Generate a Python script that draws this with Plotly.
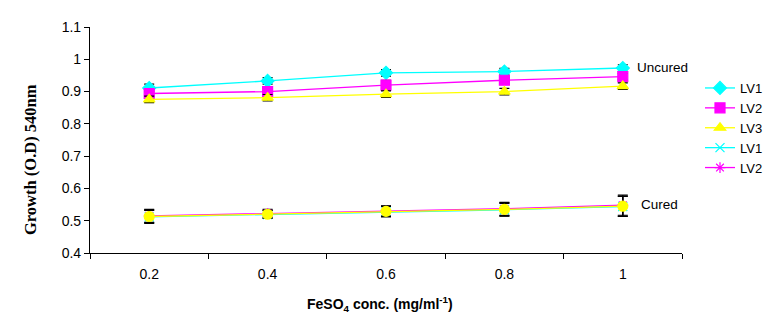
import plotly.graph_objects as go

conc = ["0.2", "0.4", "0.6", "0.8", "1"]

uncured_lv1 = [0.911, 0.933, 0.958, 0.962, 0.973]
uncured_lv2 = [0.894, 0.900, 0.920, 0.935, 0.946]
uncured_lv3 = [0.876, 0.881, 0.892, 0.900, 0.917]
uncured_lv1_err = [0.012, 0.010, 0.010, 0.010, 0.010]
uncured_lv2_err = [0.008, 0.008, 0.015, 0.010, 0.010]
uncured_lv3_err = [0.010, 0.010, 0.010, 0.010, 0.010]

cured_lv1 = [0.512, 0.519, 0.528, 0.534, 0.544]
cured_lv2 = [0.515, 0.523, 0.530, 0.537, 0.548]
cured_lv3 = [0.513, 0.520, 0.529, 0.535, 0.545]
cured_err = [0.020, 0.012, 0.016, 0.020, 0.031]

W, H = 774, 317
L, R, T, B = 82, 674, 19, 245

fig = go.Figure()

def add(name, y, color, symbol, size, err=None, show=True):
    fig.add_trace(go.Scatter(
        x=conc, y=y, name=name, mode="lines+markers", showlegend=show,
        line=dict(color=color, width=1.3),
        marker=dict(symbol=symbol, color=color, size=size,
                    line=dict(color=color, width=1.2)),
        error_y=dict(type="data", array=err, color="black", thickness=1.2, width=5,
                     visible=err is not None),
    ))

add("LV1", uncured_lv1, "#00FFFF", "diamond", 10, uncured_lv1_err)
add("LV2", uncured_lv2, "#FF00FF", "square", 10, uncured_lv2_err)
add("LV3", uncured_lv3, "#FFFF00", "triangle-up", 10, uncured_lv3_err)
add("LV1", cured_lv1, "#00FFFF", "x-thin-open", 9, cured_err)
add("LV2", cured_lv2, "#FF00FF", "asterisk-open", 9, cured_err)
add("LV3", cured_lv3, "#FFFF00", "circle", 10, cured_err, show=False)

pw = R - L
ph = B - T
def px(x):
    return (x - L) / pw
def py(y):
    return (B - y) / ph

fig.update_layout(
    width=W, height=H,
    margin=dict(l=L, r=W - R, t=T, b=H - B, autoexpand=False),
    paper_bgcolor="white", plot_bgcolor="white",
    font=dict(family="Liberation Sans, Arial", size=13, color="black"),
    showlegend=True,
    legend=dict(x=px(692), y=py(65), xanchor="left", yanchor="top",
                font=dict(size=13, family="Liberation Sans, Arial"),
                tracegroupgap=0, itemwidth=30, bgcolor="rgba(0,0,0,0)"),
    xaxis=dict(type="category", range=[-0.5, len(conc) - 0.5],
               showline=True, linecolor="black", linewidth=1.2,
               ticks="outside", ticklen=5, tickcolor="black", tickson="boundaries",
               showgrid=False, zeroline=False, fixedrange=True,
               tickfont=dict(size=14), ticklabelstandoff=8),
    yaxis=dict(range=[0.4, 1.1], dtick=0.1, tick0=0.4, showline=True, linecolor="black",
               linewidth=1.2, ticks="outside", ticklen=5, tickcolor="black",
               showgrid=False, zeroline=False, tickfont=dict(size=14)),
    annotations=[
        dict(text="<b>Growth (O.D) 540nm</b>", textangle=-90, x=px(22), y=py(152),
             xref="paper", yref="paper", showarrow=False,
             font=dict(family="Liberation Serif, Times New Roman", size=16.5, color="black"),
             xanchor="center", yanchor="middle"),
        dict(text="<b>FeSO<sub>4</sub> conc. (mg/ml<sup>-1</sup>)</b>", x=px(372), y=py(296),
             xref="paper", yref="paper", showarrow=False,
             font=dict(family="Liberation Sans, Arial", size=14, color="black"),
             xanchor="center", yanchor="middle"),
        dict(text="Uncured", x=px(627), y=py(59), xref="paper", yref="paper",
             showarrow=False, xanchor="left", yanchor="middle", font=dict(size=13.5)),
        dict(text="Cured", x=px(631), y=py(196), xref="paper", yref="paper",
             showarrow=False, xanchor="left", yanchor="middle", font=dict(size=13.5)),
    ],
)

fig.write_html("out.html")
